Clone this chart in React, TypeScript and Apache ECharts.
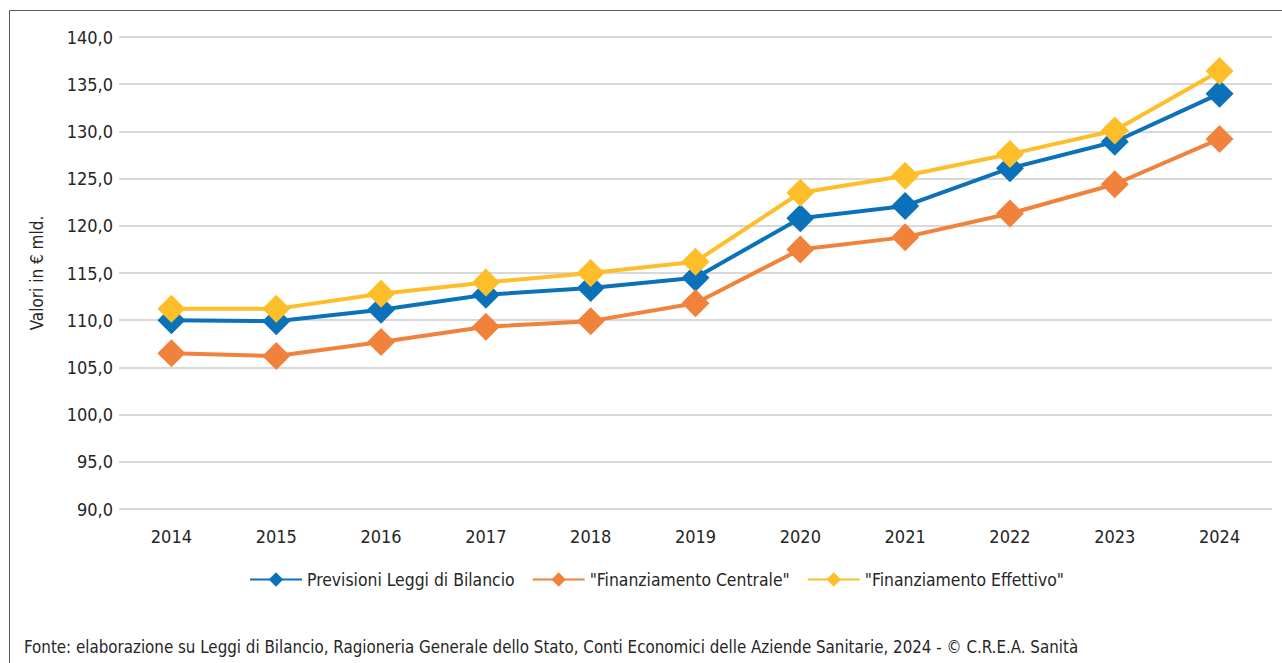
import React, { useEffect, useRef } from "react";
import * as echarts from "echarts";

const years = ["2014", "2015", "2016", "2017", "2018", "2019", "2020", "2021", "2022", "2023", "2024"];
const previsioni = [110.0, 109.9, 111.1, 112.7, 113.4, 114.5, 120.8, 122.1, 126.1, 128.9, 134.0];
const finCentrale = [106.5, 106.2, 107.7, 109.3, 109.9, 111.8, 117.5, 118.8, 121.3, 124.4, 129.2];
const finEffettivo = [111.2, 111.2, 112.8, 114.0, 115.0, 116.2, 123.5, 125.3, 127.6, 130.1, 136.4];
const seriesNames = ["Previsioni Leggi di Bilancio", "\"Finanziamento Centrale\"", "\"Finanziamento Effettivo\""];
const colors = ["#0B72B9", "#F0823C", "#FDBE2A"];
const yAxisName = "Valori in € mld.";
const footer = "Fonte: elaborazione su Leggi di Bilancio, Ragioneria Generale dello Stato, Conti Economici delle Aziende Sanitarie, 2024 - © C.R.E.A. Sanità";

const FONT = "'DejaVu Sans Condensed', 'Liberation Sans Narrow', 'Roboto', sans-serif";
const TEXT = "#262626";

export default function App() {
  const ref = useRef<HTMLDivElement>(null);
  useEffect(() => {
    if (!ref.current) return;
    const chart = echarts.init(ref.current, null, { renderer: "svg" });
    const mk = (name: string, data: number[], color: string) => ({
      name,
      type: "line",
      data,
      color,
      symbol: "diamond",
      symbolSize: 28,
      lineStyle: { width: 4, color },
      itemStyle: { color },
      z: 3,
    });
    chart.setOption({
      animation: false,
      textStyle: { fontFamily: FONT },
      grid: { left: 119, width: 1153, top: 37, height: 472, containLabel: false },
      xAxis: {
        type: "category",
        data: years,
        boundaryGap: true,
        axisLine: { show: false },
        axisTick: { show: false },
        axisLabel: { color: TEXT, fontSize: 18, fontFamily: FONT, margin: 18 },
      },
      yAxis: {
        type: "value",
        min: 90,
        max: 140,
        interval: 5,
        name: yAxisName,
        nameLocation: "middle",
        nameGap: 74,
        nameTextStyle: { color: TEXT, fontSize: 17, fontFamily: FONT },
        axisLine: { show: false },
        axisTick: { show: false },
        axisLabel: {
          color: TEXT,
          fontSize: 18,
          fontFamily: FONT,
          margin: 6,
          formatter: (v: number) => v.toFixed(1).replace(".", ","),
        },
        splitLine: { lineStyle: { color: "#D9D9D9", width: 2 } },
      },
      legend: {
        top: 566,
        left: 244,
        itemWidth: 52,
        itemHeight: 18,
        itemGap: 17,
        textStyle: { color: TEXT, fontSize: 17.4, fontFamily: FONT },
        data: seriesNames,
      },
      graphic: [
        {
          type: "rect",
          shape: { x: 9.5, y: 10.5, width: 1290, height: 670 },
          style: { fill: "none", stroke: "#595959", lineWidth: 1 },
          silent: true,
        },
        {
          type: "text",
          left: 24,
          top: 638,
          style: { text: footer, fill: TEXT, fontSize: 16.8, fontFamily: FONT },
        },
      ],
      series: [
        mk(seriesNames[0], previsioni, colors[0]),
        mk(seriesNames[1], finCentrale, colors[1]),
        mk(seriesNames[2], finEffettivo, colors[2]),
      ],
    });
    return () => chart.dispose();
  }, []);
  return (
    <div
      ref={ref}
      style={{ position: "fixed", left: 0, top: 0, width: 1282, height: 663, background: "#fff" }}
    />
  );
}
